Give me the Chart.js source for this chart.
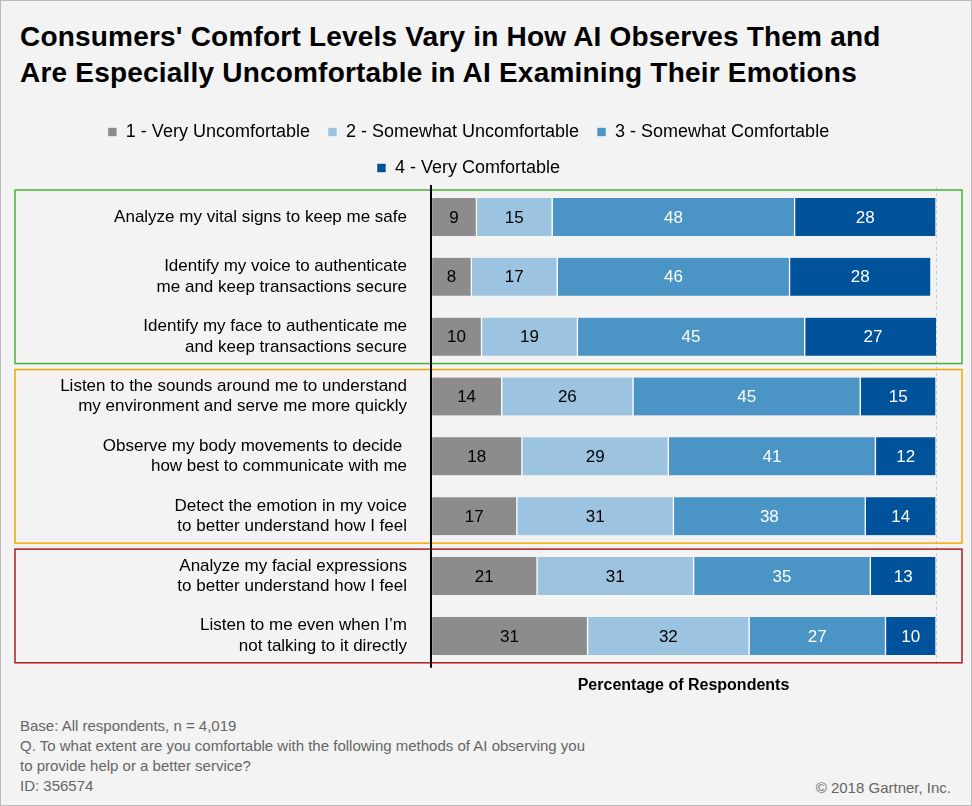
<!DOCTYPE html>
<html><head><meta charset="utf-8">
<script src="https://cdn.jsdelivr.net/npm/chart.js@4"></script>
<style>
body{margin:0;background:#fff;font-family:"Liberation Sans",Arial,sans-serif;}
#page{position:relative;width:970px;height:804px;background:#f2f3f2;border:1px solid #bbb;}
h1{position:absolute;left:19px;top:18px;margin:0;font-size:28px;line-height:36px;font-weight:bold;color:#000;letter-spacing:0.2px;}
#wrap{position:absolute;left:0;top:100px;width:970px;height:598px;}
#foot{position:absolute;left:19px;top:715px;font-size:15px;line-height:20px;color:#666;}
#copy{position:absolute;right:20px;top:778px;font-size:15px;color:#666;}
</style></head><body>
<div id="page">
<h1>Consumers' Comfort Levels Vary in How AI Observes Them and<br>Are Especially Uncomfortable in AI Examining Their Emotions</h1>
<div id="wrap"><canvas id="c"></canvas></div>
<div id="foot">Base: All respondents, n = 4,019<br>Q. To what extent are you comfortable with the following methods of AI observing you<br>to provide help or a better service?<br>ID: 356574</div>
<div id="copy">© 2018 Gartner, Inc.</div>
</div>
<script>
var categories = [
  ['Analyze my vital signs to keep me safe'],
  ['Identify my voice to authenticate', 'me and keep transactions secure'],
  ['Identify my face to authenticate me', 'and keep transactions secure'],
  ['Listen to the sounds around me to understand', 'my environment and serve me more quickly'],
  ['Observe my body movements to decide ', 'how best to communicate with me'],
  ['Detect the emotion in my voice', 'to better understand how I feel'],
  ['Analyze my facial expressions', 'to better understand how I feel'],
  ['Listen to me even when I\u2019m', 'not talking to it directly']
];
var veryUncomf = [9, 8, 10, 14, 18, 17, 21, 31];
var someUncomf = [15, 17, 19, 26, 29, 31, 31, 32];
var someComf = [48, 46, 45, 45, 41, 38, 35, 27];
var veryComf = [28, 28, 27, 15, 12, 14, 13, 10];
var seriesNames = ['1 - Very Uncomfortable', '2 - Somewhat Uncomfortable', '3 - Somewhat Comfortable', '4 - Very Comfortable'];
var colors = ['#8c8c8c', '#9cc3e0', '#4a95c5', '#00539b'];
var labelColors = ['#000', '#000', '#fff', '#fff'];
// groups of rows framed by coloured boxes: [first, last, colour]
var groups = [[0, 2, '#4caf3a'], [3, 5, '#f5a800'], [6, 7, '#b01c1c']];

var barLabels = {
  id: 'barLabels',
  afterDatasetsDraw: function(chart) {
    var ctx = chart.ctx;
    ctx.save();
    ctx.font = '17px "Liberation Sans", Arial';
    ctx.textAlign = 'center'; ctx.textBaseline = 'middle';
    chart.data.datasets.forEach(function(ds, di) {
      chart.getDatasetMeta(di).data.forEach(function(bar, i) {
        ctx.fillStyle = labelColors[di];
        ctx.fillText(ds.data[i], (bar.x + bar.base) / 2, bar.y + 1);
      });
    });
    ctx.restore();
  }
};
var groupBoxes = {
  id: 'groupBoxes',
  afterDraw: function(chart) {
    var ctx = chart.ctx, y = chart.scales.y;
    var half = (y.getPixelForValue(1) - y.getPixelForValue(0)) / 2;
    ctx.save();
    ctx.lineWidth = 1.5;
    groups.forEach(function(g) {
      var top = y.getPixelForValue(g[0]) - half + 3;
      var bot = y.getPixelForValue(g[1]) + half - 3;
      ctx.strokeStyle = g[2];
      ctx.strokeRect(14, top, 947, bot - top);
    });
    ctx.strokeStyle = '#000'; ctx.lineWidth = 2;
    ctx.beginPath();
    ctx.moveTo(chart.chartArea.left, chart.chartArea.top - 2);
    ctx.lineTo(chart.chartArea.left, chart.chartArea.bottom + 2);
    ctx.stroke();
    ctx.restore();
  }
};

new Chart(document.getElementById('c'), {
  type: 'bar',
  data: {
    labels: categories,
    datasets: [veryUncomf, someUncomf, someComf, veryComf].map(function(d, i) {
      return { label: seriesNames[i], data: d, backgroundColor: colors[i],
        borderColor: '#ffffff', borderWidth: { left: 1, right: 1 }, borderSkipped: false,
        barThickness: 38 };
    })
  },
  options: {
    indexAxis: 'y', responsive: true, maintainAspectRatio: false, animation: false,
    layout: { padding: { left: 0, right: 35, top: 4, bottom: 0 } },
    plugins: {
      legend: { display: true, position: 'top',
        labels: { color: '#000', font: { size: 18, family: '"Liberation Sans", Arial' }, boxWidth: 9, boxHeight: 9, padding: 18 } },
      tooltip: { enabled: false }
    },
    scales: {
      x: { stacked: true, min: 0, max: 100,
        grid: { color: '#c8c8c8', drawTicks: false },
        border: { display: false, dash: [3, 3] },
        ticks: { display: false, stepSize: 100 },
        title: { display: true, text: 'Percentage of Respondents', color: '#000',
          font: { size: 16, weight: 'bold', family: '"Liberation Sans", Arial' }, padding: { top: 10 } } },
      y: { stacked: true,
        grid: { display: false }, border: { display: false },
        afterFit: function(s) { s.width = 430; },
        ticks: { color: '#000', font: { size: 17, family: '"Liberation Sans", Arial' }, padding: 16 } }
    }
  },
  plugins: [barLabels, groupBoxes]
});
</script>
</body></html>
